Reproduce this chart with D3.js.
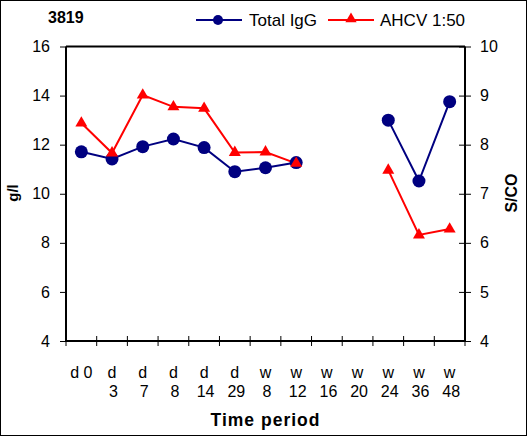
<!DOCTYPE html>
<html>
<head>
<meta charset="utf-8">
<script src="https://cdn.jsdelivr.net/npm/d3@7/dist/d3.min.js"></script>
<style>
  html, body { margin: 0; padding: 0; background: #fff; }
  svg { display: block; font-family: Arial, "Liberation Sans", sans-serif; }
</style>
</head>
<body>
<svg id="chart" width="529" height="437"></svg>
<script>
// Sampling times (line 1 / line 2 of each axis label)
const categories = ["d0", "d3", "d7", "d8", "d14", "d29", "w8", "w12", "w16", "w20", "w24", "w36", "w48"];
const labelTop    = ["d 0", "d", "d", "d", "d", "d", "w", "w", "w", "w", "w", "w", "w"];
const labelBottom = ["",    "3", "7", "8", "14", "29", "8", "12", "16", "20", "24", "36", "48"];

// Total IgG in g/l (left axis); null = not sampled
const totalIgG = [11.71, 11.42, 11.92, 12.23, 11.88, 10.90, 11.06, 11.27, null, null, 13.0, 10.52, 13.75];
// AHCV 1:50 in S/CO (right axis)
const ahcv = [8.44, 7.83, 9.01, 8.77, 8.74, 7.84, 7.85, 7.62, null, null, 7.48, 6.16, 6.28];

const leftTicks = [4, 6, 8, 10, 12, 14, 16];
const rightTicks = [4, 5, 6, 7, 8, 9, 10];

const svg = d3.select("#chart");
const W = 529, H = 437;
const plot = { left: 66, right: 465, top: 46.5, bottom: 341 };

const navy = "#000080", red = "#ff0000";

// outer frame
svg.append("rect").attr("x", 0.5).attr("y", 0.5).attr("width", W - 3).attr("height", H - 2)
  .attr("fill", "#fff").attr("stroke", "#000").attr("stroke-width", 1);

const x = d3.scaleBand().domain(categories).range([plot.left, plot.right]).paddingInner(0).paddingOuter(0);
const yL = d3.scaleLinear().domain([4, 16]).range([plot.bottom, plot.top]);
const yR = d3.scaleLinear().domain([4, 10]).range([plot.bottom, plot.top]);

// left axis
const axL = svg.append("g").attr("transform", `translate(${plot.left},0)`)
  .call(d3.axisLeft(yL).tickValues(leftTicks).tickFormat(d3.format("d")).tickSize(6).tickPadding(9));
// right axis
const axR = svg.append("g").attr("transform", `translate(${plot.right},0)`)
  .call(d3.axisRight(yR).tickValues(rightTicks).tickFormat(d3.format("d")).tickSize(6).tickPadding(9));
// bottom axis: ticks at category boundaries
const bounds = categories.map(c => x(c)).concat([plot.right]);
const axB = svg.append("g").attr("transform", `translate(0,${plot.bottom})`);
axB.append("line").attr("x1", plot.left).attr("x2", plot.right).attr("y1", 0).attr("y2", 0)
  .attr("stroke", "#000").attr("stroke-width", 2);
axB.selectAll("line.tk").data(bounds).join("line").attr("class", "tk")
  .attr("x1", d => d).attr("x2", d => d).attr("y1", -5).attr("y2", 5)
  .attr("stroke", "#000").attr("stroke-width", 1);

// top frame line of the plot area
svg.append("line").attr("x1", plot.left).attr("x2", plot.right).attr("y1", plot.top).attr("y2", plot.top)
  .attr("stroke", "#000").attr("stroke-width", 2);

[axL, axR].forEach(g => {
  g.select(".domain").attr("stroke", "#000").attr("stroke-width", 2)
    .attr("d", `M0,${plot.top}V${plot.bottom}`);
  g.selectAll(".tick line").attr("stroke", "#000").attr("stroke-width", 1);
  g.selectAll(".tick text").attr("font-size", 16).attr("fill", "#000")
    .attr("font-family", "Arial, 'Liberation Sans', sans-serif");
});
axL.selectAll(".tick line").attr("x1", 0).attr("x2", -6);
axR.selectAll(".tick line").attr("x1", -6).attr("x2", 6);
axL.selectAll(".tick text").attr("x", -16);
axR.selectAll(".tick text").attr("x", 15);

// category labels
const cx = c => x(c) + x.bandwidth() / 2;
svg.append("g").selectAll("text.l1").data(categories).join("text").attr("class", "l1")
  .attr("x", cx).attr("y", 378).attr("text-anchor", "middle").attr("font-size", 16)
  .text((d, i) => labelTop[i]);
svg.append("g").selectAll("text.l2").data(categories).join("text").attr("class", "l2")
  .attr("x", c => cx(c) + 1.5).attr("y", 397).attr("text-anchor", "middle").attr("font-size", 16)
  .text((d, i) => labelBottom[i]);

// axis titles
svg.append("text").attr("x", 265.5).attr("y", 426).attr("text-anchor", "middle")
  .attr("font-size", 17.5).attr("font-weight", "bold").attr("letter-spacing", 1)
  .text("Time period");
svg.append("text").attr("transform", "translate(18,193) rotate(-90)").attr("text-anchor", "middle")
  .attr("font-size", 15).attr("font-weight", "bold").text("g/l");
svg.append("text").attr("transform", "translate(517,193) rotate(-90)").attr("text-anchor", "middle")
  .attr("font-size", 16).attr("font-weight", "bold").text("S/CO");

// series
const lineL = d3.line().defined(d => d.v != null).x(d => cx(d.c)).y(d => yL(d.v));
const lineR = d3.line().defined(d => d.v != null).x(d => cx(d.c)).y(d => yR(d.v));
const igg = categories.map((c, i) => ({ c, v: totalIgG[i] }));
const hcv = categories.map((c, i) => ({ c, v: ahcv[i] }));

svg.append("path").datum(igg).attr("d", lineL).attr("fill", "none").attr("stroke", navy).attr("stroke-width", 2);
svg.append("path").datum(hcv).attr("d", lineR).attr("fill", "none").attr("stroke", red).attr("stroke-width", 2);

svg.append("g").selectAll("circle").data(igg.filter(d => d.v != null)).join("circle")
  .attr("cx", d => cx(d.c)).attr("cy", d => yL(d.v)).attr("r", 6.5).attr("fill", navy);

const tri = d3.symbol().type(d3.symbolTriangle).size(62);
svg.append("g").selectAll("path").data(hcv.filter(d => d.v != null)).join("path")
  .attr("d", tri).attr("transform", d => `translate(${cx(d.c)},${yR(d.v)})`).attr("fill", red);

// title and legend
svg.append("text").attr("x", 48).attr("y", 23).attr("font-size", 16).attr("font-weight", "bold").text("3819");

const lg = svg.append("g");
lg.append("line").attr("x1", 196).attr("x2", 242).attr("y1", 20).attr("y2", 20).attr("stroke", navy).attr("stroke-width", 2);
lg.append("circle").attr("cx", 218).attr("cy", 20).attr("r", 5).attr("fill", navy);
lg.append("text").attr("x", 249).attr("y", 26).attr("font-size", 17).text("Total IgG");
lg.append("line").attr("x1", 328).attr("x2", 374).attr("y1", 20).attr("y2", 20).attr("stroke", red).attr("stroke-width", 2);
lg.append("path").attr("d", d3.symbol().type(d3.symbolTriangle).size(55)).attr("transform", "translate(351,19)").attr("fill", red);
lg.append("text").attr("x", 380).attr("y", 26).attr("font-size", 17).text("AHCV 1:50");
</script>
</body>
</html>
